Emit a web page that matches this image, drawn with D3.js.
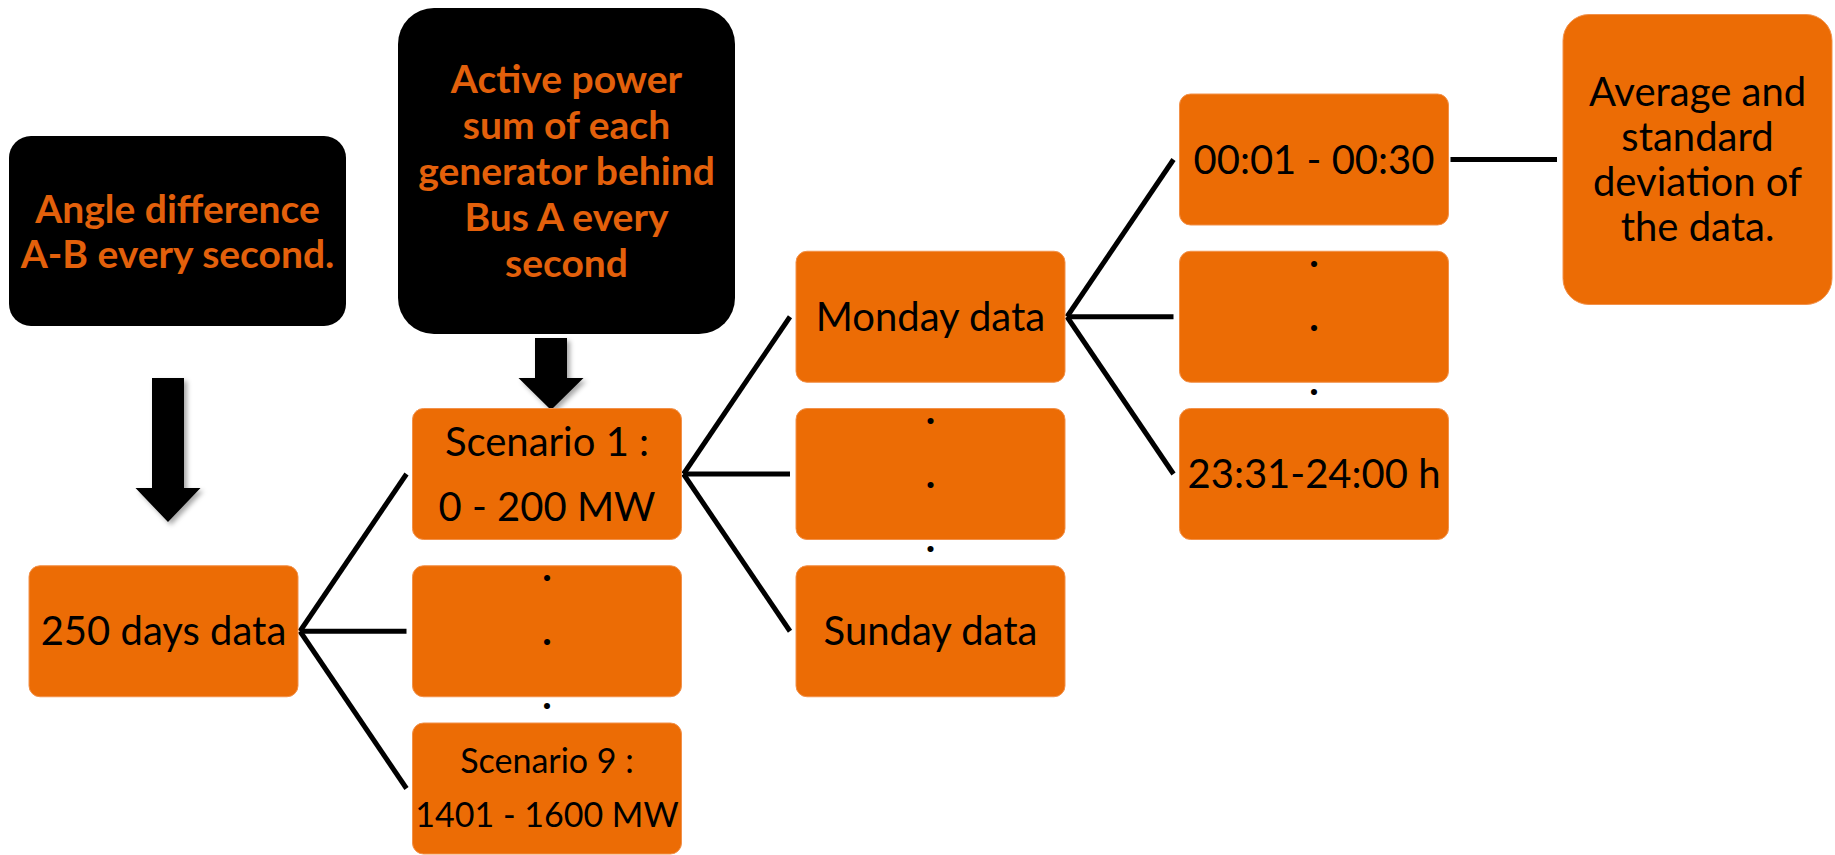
<!DOCTYPE html>
<html>
<head>
<meta charset="utf-8">
<script src="https://cdn.jsdelivr.net/npm/d3@7"></script>
<style>
  body { margin: 0; background: #fff; }
  svg { display: block; }
</style>
</head>
<body>
<script>
// tree boxes, in order
var nodeIds = ["days", "scen1", "scenMid", "scen9", "mon", "dayMid", "sun", "t1", "tMid", "t48", "stats"];
var nodeLabels = [
    ["250 days data"],
    ["Scenario 1 :", "0 - 200 MW"],
    [".", ".", "."],
    ["Scenario 9 :", "1401 - 1600 MW"],
    ["Monday data"],
    [".", ".", "."],
    ["Sunday data"],
    ["00:01 - 00:30"],
    [".", ".", "."],
    ["23:31-24:00 h"],
    ["Average and", "standard", "deviation of", "the data."]
];
var nodeColumns = [0, 1, 1, 1, 2, 2, 2, 3, 3, 3, 4];
var nodeRows    = [3, 2, 3, 4, 1, 2, 3, 0, 1, 2, 0];

var links = [
    ["days", "scen1"], ["days", "scenMid"], ["days", "scen9"],
    ["scen1", "mon"], ["scen1", "dayMid"], ["scen1", "sun"],
    ["mon", "t1"], ["mon", "tMid"], ["mon", "t48"],
    ["t1", "stats"]
];

// black input boxes and the box each one feeds
var inputLabels = [
    ["Angle difference", "A-B every second."],
    ["Active power", "sum of each", "generator behind", "Bus A every", "second"]
];
var inputTargets = ["days", "scen1"];

var width = 1835, height = 855;
var orange = "#ec6c05", textOrange = "#e3600b";
var font = "Lato, 'Noto Sans', sans-serif";

var boxW = 269, boxH = 131;
var x = d3.scaleLinear().domain([0, 4]).range([29, 1563]);
var y = d3.scaleLinear().domain([0, 4]).range([94, 723]);

var nodes = nodeIds.map(function(id, i) {
    var h = id == "stats" ? 290 : boxH;
    var cy = y(nodeRows[i]) + boxH / 2;
    return {id: id, lines: nodeLabels[i], x: x(nodeColumns[i]), cy: cy, y: cy - h / 2, w: boxW, h: h};
});
var byId = {};
nodes.forEach(function(n) { byId[n.id] = n; });

function labelStyle(d) {
    if (d.lines[0] == ".") return {size: 40, lineH: 64};
    if (d.id == "scen9") return {size: 34, lineH: 54};
    if (d.id == "scen1") return {size: 40, lineH: 65};
    return {size: 40, lineH: 45};
}

var svg = d3.select("body").append("svg")
    .attr("width", width)
    .attr("height", height);

var defs = svg.append("defs");
defs.append("filter")
    .attr("id", "shadow")
    .attr("x", "-30%").attr("y", "-30%").attr("width", "160%").attr("height", "160%")
  .append("feDropShadow")
    .attr("dx", 3).attr("dy", 3)
    .attr("stdDeviation", 2.5)
    .attr("flood-color", "#000")
    .attr("flood-opacity", 0.35);

// input boxes (not on the tree grid)
var inputBoxes = [
    {x: 9, y: 136, w: 337, h: 190, r: 22, firstBase: 223, lineH: 45},
    {x: 398, y: 8, w: 337, h: 326, r: 36, firstBase: 93, lineH: 46}
];
var inputArrows = [
    {cx: 168, top: 378, neck: 488, tip: 522},
    {cx: 551, top: 338, neck: 378, tip: 410}
];

var inputs = svg.selectAll(".input")
    .data(inputLabels)
  .enter().append("g")
    .attr("class", "input");

inputs.append("rect")
    .attr("x", function(d, i) { return inputBoxes[i].x; })
    .attr("y", function(d, i) { return inputBoxes[i].y; })
    .attr("width", function(d, i) { return inputBoxes[i].w; })
    .attr("height", function(d, i) { return inputBoxes[i].h; })
    .attr("rx", function(d, i) { return inputBoxes[i].r; })
    .style("fill", "#000");

inputs.each(function(lines, i) {
    var b = inputBoxes[i];
    d3.select(this).selectAll("text")
        .data(lines)
      .enter().append("text")
        .attr("x", b.x + b.w / 2)
        .attr("y", function(d, j) { return b.firstBase + j * b.lineH; })
        .attr("text-anchor", "middle")
        .style("font-family", font)
        .style("font-weight", "bold")
        .style("font-size", "39px")
        .style("fill", textOrange)
        .text(function(d) { return d; });
});

var shaftW = 32, headW = 65;
svg.selectAll(".arrow")
    .data(inputTargets)
  .enter().append("path")
    .attr("class", "arrow")
    .attr("filter", "url(#shadow)")
    .style("fill", "#000")
    .attr("d", function(t, i) {
        var a = inputArrows[i];
        var p = d3.path();
        p.moveTo(a.cx - shaftW / 2, a.top);
        p.lineTo(a.cx + shaftW / 2, a.top);
        p.lineTo(a.cx + shaftW / 2, a.neck);
        p.lineTo(a.cx + headW / 2, a.neck);
        p.lineTo(a.cx, a.tip);
        p.lineTo(a.cx - headW / 2, a.neck);
        p.lineTo(a.cx - shaftW / 2, a.neck);
        p.closePath();
        return p.toString();
    });

// connectors
svg.selectAll(".link")
    .data(links)
  .enter().append("line")
    .attr("class", "link")
    .attr("x1", function(d) { return byId[d[0]].x + byId[d[0]].w + 2; })
    .attr("y1", function(d) { return byId[d[0]].cy; })
    .attr("x2", function(d) { return byId[d[1]].x - 6; })
    .attr("y2", function(d) { return byId[d[1]].cy; })
    .style("stroke", "#000")
    .style("stroke-width", 5);

// tree boxes
var box = svg.selectAll(".node")
    .data(nodes)
  .enter().append("g")
    .attr("class", "node");

box.append("rect")
    .attr("x", function(d) { return d.x; })
    .attr("y", function(d) { return d.y; })
    .attr("width", function(d) { return d.w; })
    .attr("height", function(d) { return d.h; })
    .attr("rx", function(d) { return d.id == "stats" ? 26 : 11; })
    .style("fill", orange)
    .style("stroke", "#f2914a")
    .style("stroke-width", 1);

box.each(function(d) {
    var s = labelStyle(d);
    var n = d.lines.length;
    d3.select(this).selectAll("text")
        .data(d.lines)
      .enter().append("text")
        .attr("x", d.x + d.w / 2)
        .attr("y", function(t, j) { return d.cy + 0.35 * s.size + (j - (n - 1) / 2) * s.lineH; })
        .attr("text-anchor", "middle")
        .style("font-family", font)
        .style("font-size", s.size + "px")
        .style("font-weight", t => t == "." ? "bold" : "normal")
        .style("fill", "#000")
        .text(function(t) { return t; });
});
</script>
</body>
</html>
